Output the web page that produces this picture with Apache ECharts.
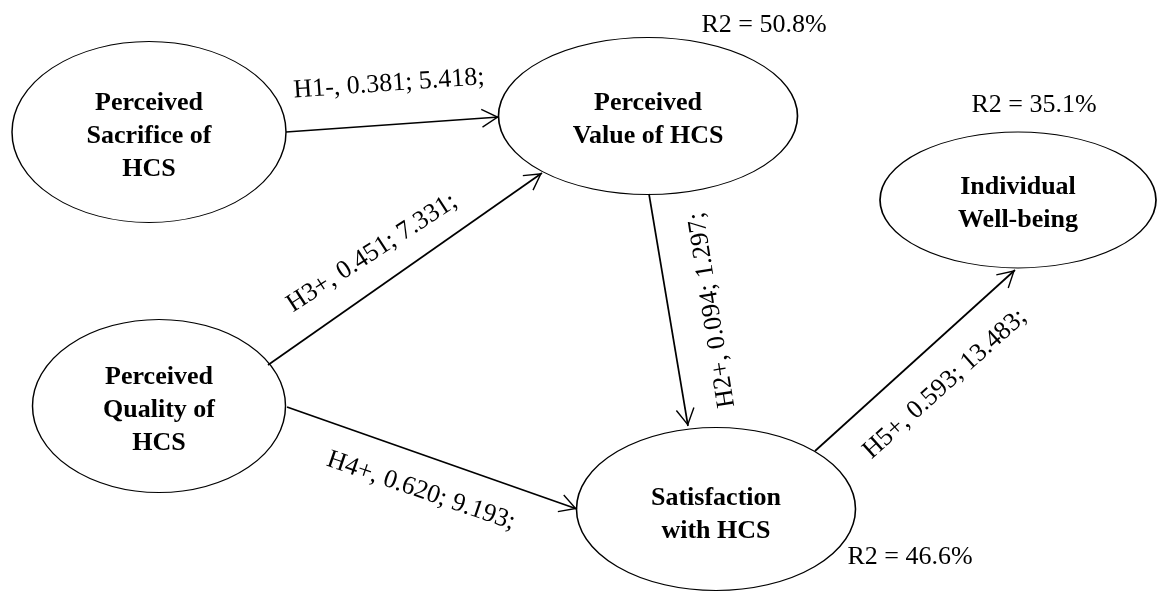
<!DOCTYPE html>
<html>
<head>
<meta charset="utf-8">
<script src="https://cdn.jsdelivr.net/npm/echarts@6/dist/echarts.min.js"></script>
<style>
  html, body { margin: 0; padding: 0; background: #fff; }
  #chart { width: 1157px; height: 592px; }
</style>
</head>
<body>
<div id="chart"></div>
<script>
// constructs of the structural model
const constructs = ['Perceived\nSacrifice of\nHCS', 'Perceived\nValue of HCS', 'Individual\nWell-being', 'Perceived\nQuality of\nHCS', 'Satisfaction\nwith HCS']
// explained variance (index into constructs)
const r2Targets = [1, 2, 4]
const r2Values = [50.8, 35.1, 46.6]
// structural paths
const hypotheses = ['H1-', 'H2+', 'H3+', 'H4+', 'H5+']
const pathFrom = [0, 1, 3, 3, 4]
const pathTo = [1, 4, 1, 4, 2]
const betas = [0.381, 0.094, 0.451, 0.620, 0.593]
const tValues = [5.418, 1.297, 7.331, 9.193, 13.483]

// layout, in pixels (the grid maps 1:1 onto the canvas)
const nodePos = [[149, 132], [648, 116], [1018, 200], [159, 406], [716, 509]]
const nodeSize = [[274, 181], [299, 157], [276, 136], [253, 173], [279, 163]]
const nodeTextShift = [4, 4, 4, 4, 6]
const edgeStart = [[286, 132], [649, 194], [268, 365], [287, 407], [815, 451]]
const edgeEnd = [[499, 117], [688, 426], [542, 173], [577, 509], [1015, 270]]
const edgeLabelPos = [[389, 84], [712, 310], [372, 253], [421, 491], [945, 384]]
const edgeLabelRot = [4, 99, 33, -19, 42]
const r2Pos = [[764, 25], [1034, 105], [910, 557]]

const ellipse = 'path://M0,50A50,50,0,1,1,100,50A50,50,0,1,1,0,50Z'
// open arrow head, tip at the centre of its box
const arrowHead = 'path://M10,-18.7M10,0L20,18L18.7,18.7L10,3.1L1.3,18.7L0,18Z'
const serif = '"Liberation Serif", "Times New Roman", serif'

const chart = echarts.init(document.getElementById('chart'))
chart.setOption({
  animation: false,
  grid: { left: 0, right: 0, top: 0, bottom: 0 },
  xAxis: { type: 'value', min: 0, max: 1157, show: false },
  yAxis: { type: 'value', min: 0, max: 592, inverse: true, show: false },
  series: [
    {
      type: 'scatter',
      silent: true,
      z: 2,
      symbol: ellipse,
      data: constructs.map((name, i) => ({
        name, value: nodePos[i], symbolSize: nodeSize[i],
        label: { offset: [0, nodeTextShift[i]] }
      })),
      itemStyle: { color: '#fff', borderColor: '#000', borderWidth: 1.2, opacity: 1 },
      label: {
        show: true, position: 'inside', formatter: '{b}', opacity: 1,
        fontFamily: serif, fontWeight: 'bold', fontSize: 26, lineHeight: 33, color: '#000'
      }
    },
    {
      type: 'lines',
      coordinateSystem: 'cartesian2d',
      silent: true,
      z: 3,
      symbol: ['none', arrowHead],
      symbolSize: [0, [19, 35]],
      lineStyle: { color: '#000', width: 1.7, opacity: 1 },
      data: hypotheses.map((h, i) => ({ name: h, coords: [edgeStart[i], edgeEnd[i]] }))
    },
    {
      type: 'scatter',
      silent: true,
      z: 4,
      symbolSize: 1,
      itemStyle: { color: 'rgba(0,0,0,0)', opacity: 1 },
      data: hypotheses.map((h, i) => ({
        name: h + ', ' + betas[i].toFixed(3) + '; ' + tValues[i].toFixed(3) + ';',
        value: edgeLabelPos[i],
        label: { rotate: edgeLabelRot[i] }
      })),
      label: { show: true, position: 'inside', formatter: '{b}', opacity: 1, fontFamily: serif, fontSize: 26, color: '#000' }
    },
    {
      type: 'scatter',
      silent: true,
      z: 4,
      symbolSize: 1,
      itemStyle: { color: 'rgba(0,0,0,0)', opacity: 1 },
      data: r2Values.map((v, i) => ({ name: 'R2 = ' + v.toFixed(1) + '%', value: r2Pos[i] })),
      label: { show: true, position: 'inside', formatter: '{b}', opacity: 1, fontFamily: serif, fontSize: 26, color: '#000' }
    }
  ]
})
</script>
</body>
</html>
